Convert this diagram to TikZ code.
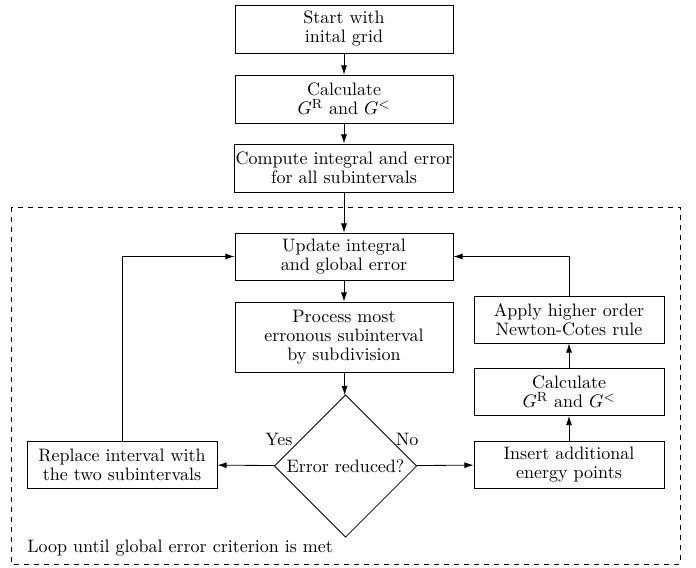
\documentclass[tikz,border=0pt]{standalone}
\usetikzlibrary{shapes.geometric,arrows.meta}
\begin{document}
\begin{tikzpicture}[x=0.6pt,y=-0.6pt,
  every node/.style={font=\fontsize{10.8}{11.4}\selectfont},
  box/.style={draw,line width=0.5pt,rectangle,align=center,inner ysep=2pt,inner xsep=0.5pt},
  mainbox/.style={box,minimum width=130.8pt},
  sidebox/.style={box,minimum width=114pt,minimum height=28.2pt},
  dec/.style={draw,line width=0.5pt,diamond,aspect=1,minimum width=85.5pt,minimum height=85.5pt,inner sep=0pt,align=center},
  arr/.style={line width=0.5pt,-{Latex[length=5.5pt,width=3.6pt]}},
  ln/.style={line width=0.5pt}]
\useasboundingbox (0,0) rectangle (696,567);
\draw[dashed,line width=0.5pt] (11,207) rectangle (680,564);
\node[mainbox,minimum height=28.8pt] (start) at (344,29) {Start with\\inital grid};
\node[mainbox,minimum height=28.8pt] (calc1) at (344,99) {Calculate\\$G^{\mathrm{R}}$ and $G^{<}$};
\node[mainbox,minimum height=28.8pt] (comp) at (344,168) {Compute integral and error\\for all subintervals};
\node[mainbox,minimum height=28.2pt] (upd) at (344,256.5) {Update integral\\and global error};
\node[mainbox,minimum height=42pt] (proc) at (344,337) {Process most\\erronous subinterval\\by subdivision};
\node[dec] (dec) at (345.5,466) {Error reduced?};
\node[sidebox] (repl) at (122,464.5) {Replace interval with\\the two subintervals};
\node[sidebox] (ins) at (569,464.5) {Insert additional\\energy points};
\node[sidebox] (calc2) at (569,392) {Calculate\\$G^{\mathrm{R}}$ and $G^{<}$};
\node[sidebox] (apply) at (569,319.5) {Apply higher order\\Newton-Cotes rule};
\node (yes) at (279,439) {Yes};
\node (no) at (407,439) {No};
\node[anchor=base west,inner sep=0pt] (loop) at (27,552) {Loop until global error criterion is met};
\draw[arr] (start) -- (calc1);
\draw[arr] (calc1) -- (comp);
\draw[arr] (comp) -- (upd);
\draw[arr] (upd) -- (proc);
\draw[arr] (proc) -- (dec);
\draw[arr] (dec) -- (repl);
\draw[arr] (dec) -- (ins);
\draw[arr] (ins) -- (calc2);
\draw[arr] (calc2) -- (apply);
\draw[arr] (repl.north) |- (upd.west);
\draw[arr] (apply.north) |- (upd.east);
\end{tikzpicture}
\end{document}
